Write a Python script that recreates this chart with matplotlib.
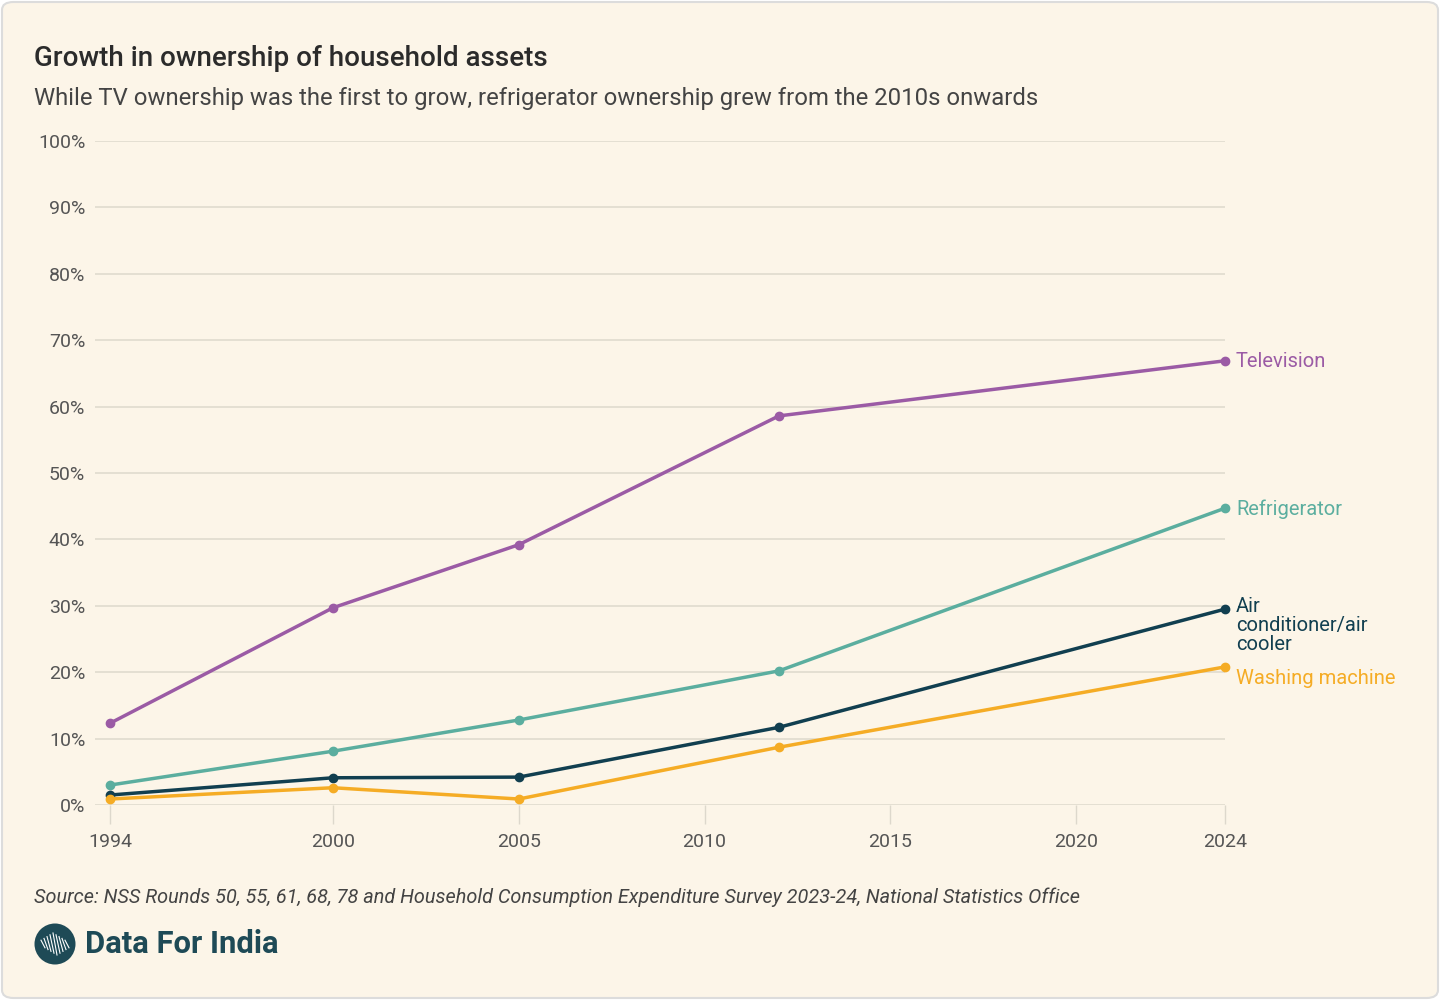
import matplotlib
matplotlib.use("Agg")
import matplotlib.pyplot as plt
from matplotlib.patches import FancyBboxPatch, Ellipse
from matplotlib.lines import Line2D

plt.rcParams['font.family'] = ['Roboto', 'DejaVu Sans']

# données
years = [1994, 2000, 2005, 2012, 2024]
television = [12.3, 29.7, 39.2, 58.6, 66.9]
refrigerator = [3.0, 8.1, 12.8, 20.2, 44.7]
air_conditioner = [1.5, 4.1, 4.2, 11.7, 29.5]
washing_machine = [0.9, 2.6, 0.9, 8.7, 20.8]

series_names = ["Television", "Refrigerator", "Air\nconditioner/air\ncooler", "Washing machine"]
series_values = [television, refrigerator, air_conditioner, washing_machine]
series_colors = ["#9B5BA5", "#5BAE9F", "#113F50", "#F5AC25"]
# décalage vertical des étiquettes (px) pour éviter les chevauchements
label_shift = [-1, -1, 0, -12]

x_ticks = [1994, 2000, 2005, 2010, 2015, 2020, 2024]
y_ticks = list(range(0, 101, 10))

bg = "#FCF5E8"
W, H = 1440, 1000

fig = plt.figure(figsize=(14.4, 10), dpi=100)
fig.patch.set_facecolor("white")

# cadre arrondi
frame = FancyBboxPatch((2 / W, 2 / H), 1 - 4 / W, 1 - 4 / H,
                       boxstyle="round,pad=0,rounding_size=0.008",
                       transform=fig.transFigure, facecolor=bg,
                       edgecolor="#DCDCDC", linewidth=1.5, zorder=-10)
fig.patches.append(frame)

ax = fig.add_axes([95 / W, (H - 805) / H, (1225 - 95) / W, (805 - 141) / H])
ax.set_facecolor("none")
ax.set_xlim(1993.6, 2024)
ax.set_ylim(0, 100)
for s in ax.spines.values():
    s.set_visible(False)

ax.set_yticks(y_ticks)
ax.set_yticklabels([f"{v}%" for v in y_ticks])
ax.set_xticks(x_ticks)
ax.set_xticklabels([str(v) for v in x_ticks])
ax.tick_params(axis="y", length=0, pad=7, labelsize=14, labelcolor="#555555")
ax.tick_params(axis="x", length=14, width=1, color="#DDD8CC", pad=6,
               labelsize=14, labelcolor="#555555")
ax.grid(axis="y", color="#E2DDD0", linewidth=1.3)
ax.set_axisbelow(True)

for name, vals, col, dy in zip(series_names, series_values, series_colors, label_shift):
    ax.plot(years, vals, color=col, linewidth=2.5, marker="o", markersize=6,
            clip_on=False, zorder=3)
    if name.startswith("Air"):
        ax.annotate(name, (years[-1], vals[-1]), xytext=(11, 12),
                    textcoords="offset pixels", color=col, fontsize=14.5,
                    va="top", ha="left", linespacing=1.0, annotation_clip=False)
    else:
        ax.annotate(name, (years[-1], vals[-1]), xytext=(11, dy),
                    textcoords="offset pixels", color=col, fontsize=14.5,
                    va="center", ha="left", annotation_clip=False)

fig.text(34 / W, 1 - 58 / H, "Growth in ownership of household assets",
         fontsize=20, fontweight="medium", color="#2B2B2B", va="center")
fig.text(34 / W, 1 - 99 / H,
         "While TV ownership was the first to grow, refrigerator ownership grew from the 2010s onwards",
         fontsize=17.2, color="#444444", va="center")
fig.text(34 / W, 1 - 897 / H,
         "Source: NSS Rounds 50, 55, 61, 68, 78 and Household Consumption Expenditure Survey 2023-24, National Statistics Office",
         fontsize=14.3, style="italic", color="#444444", va="center")

# logo
logo_col = "#1E4A56"
cx, cy = 55 / W, 1 - 944 / H
fig.patches.append(Ellipse((cx, cy), 41 / W, 41 / H, transform=fig.transFigure,
                           facecolor=logo_col, edgecolor="none"))
for i in range(-4, 5):
    x0 = (55 + i * 3) / W
    half = (11 - abs(i) * 1.8) / H
    fig.lines.append(Line2D([x0 + 2 / W, x0 - 2 / W], [cy - half, cy + half],
                            transform=fig.transFigure, color="white", linewidth=0.8))
fig.text(85 / W, 1 - 944 / H, "Data For India", fontsize=22.3, fontweight="bold",
         color=logo_col, va="center")

fig.savefig("out.png", dpi=100, facecolor=fig.get_facecolor())
